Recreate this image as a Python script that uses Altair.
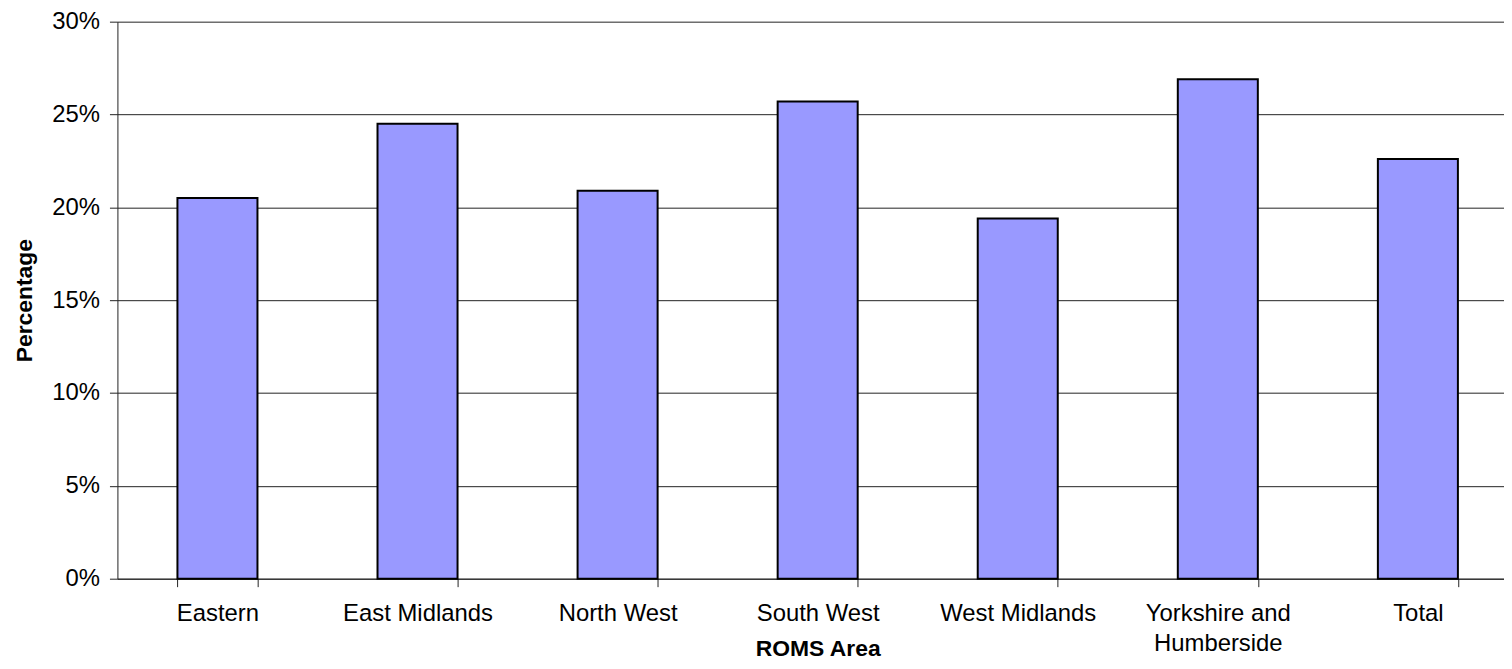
import altair as alt
import pandas as pd

areas = ["Eastern", "East Midlands", "North West", "South West",
         "West Midlands", "Yorkshire and Humberside", "Total"]
pct = [20.5, 24.5, 20.9, 25.7, 19.4, 26.9, 22.6]
y_ticks = [0, 5, 10, 15, 20, 25, 30]

df = pd.DataFrame({"area": areas, "pct": pct})

FONT = "Liberation Sans"
LINE = "#222222"

chart = alt.Chart(df).mark_bar(
    color="#9999FF", stroke="#000000", strokeWidth=2
).encode(
    x=alt.X(
        "area:N", sort=areas,
        scale=alt.Scale(range=[0, 1408], paddingInner=0.6, paddingOuter=0.3),
        axis=alt.Axis(
            title="ROMS Area", labelAngle=0, tickBand="extent",
            labelExpr="datum.label == 'Yorkshire and Humberside' ? ['Yorkshire and', 'Humberside'] : datum.label",
            labelLineHeight=30, labelFontSize=24, labelPadding=15, labelFont=FONT,
            labelColor="#000000", tickSize=8, tickColor=LINE, domainColor=LINE,
            titleX=704, titleY=77, titleBaseline="alphabetic", titleAlign="center",
            titleFontSize=23, titleFontWeight="bold", titleFont=FONT, titleColor="#000000",
            grid=False,
        ),
    ),
    y=alt.Y(
        "pct:Q",
        scale=alt.Scale(domain=[0, 30]),
        axis=alt.Axis(
            values=y_ticks, labelExpr="datum.value + '%'",
            title="Percentage", titleX=-93, titleY=280, titleAngle=270,
            titleAlign="center", titleBaseline="middle",
            titleFontSize=23, titleFontWeight="bold", titleFont=FONT, titleColor="#000000",
            labelFontSize=24, labelPadding=10, labelFont=FONT, labelColor="#000000",
            tickSize=8, tickColor=LINE, domainColor=LINE,
            grid=True, gridColor=LINE, gridWidth=1,
        ),
    ),
).properties(
    width=1394, height=560, autosize="none",
    padding={"left": 110, "top": 12, "right": 0, "bottom": 81},
).configure_view(strokeWidth=0)

chart.save("out.html", embed_options={"renderer": "svg", "actions": False})
